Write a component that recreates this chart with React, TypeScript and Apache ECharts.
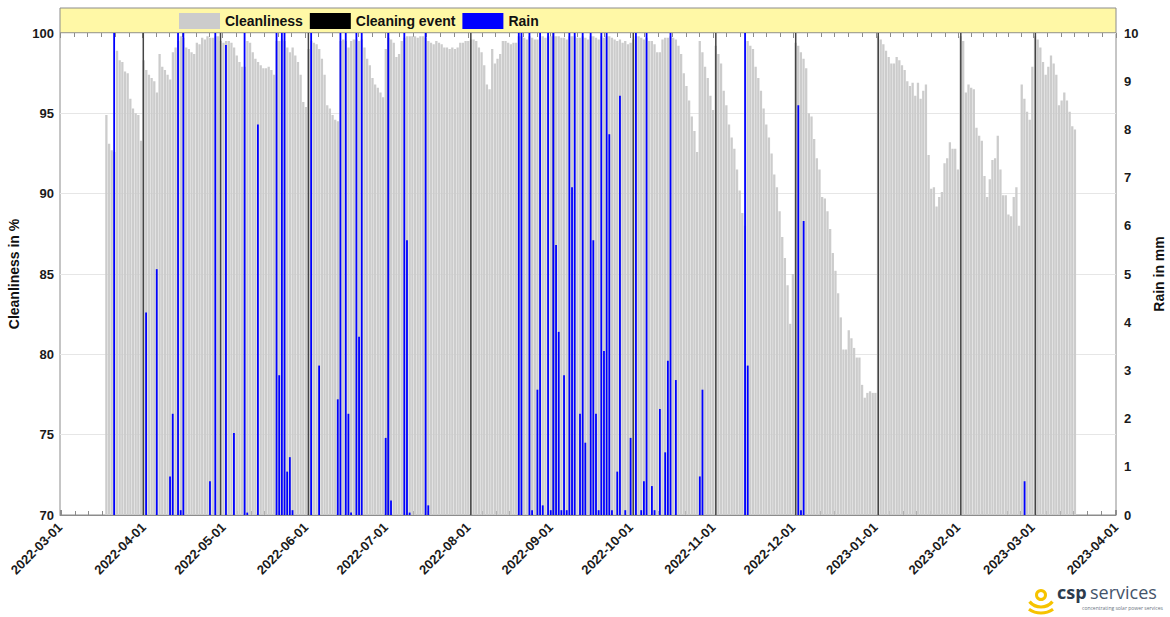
import React, { useEffect, useRef } from 'react';
import * as echarts from 'echarts';

// ---- data ----
const X_MIN = '2022-03-01';
const X_MAX = '2023-04-01';
const FIRST_DAY = '2022-03-18'; // first daily cleanliness value

// daily cleanliness in %, from 2022-03-18 to 2023-03-17
const cleanMar22 = [94.9, 93.1, 92.7, 92.6, 98.9, 98.3, 98.2, 97.6, 97.5, 95.9, 95.3, 95.0, 94.9, 93.3];
const cleanApr22 = [98.3, 97.7, 97.4, 97.2, 97.0, 96.3, 98.7, 97.9, 97.7, 97.4, 97.1, 98.8, 99.1, 99.5, 99.8, 99.7, 99.1, 99.0, 98.8, 98.7, 99.4, 99.3, 99.7, 99.6, 99.8, 99.7, 99.7, 99.8, 99.8, 99.5];
const cleanMay22 = [99.4, 99.5, 99.5, 99.4, 99.1, 98.6, 98.2, 97.9, 97.9, 99.5, 99.4, 98.8, 98.4, 98.2, 98.0, 97.8, 97.8, 97.9, 97.7, 97.4, 99.5, 99.5, 99.6, 99.5, 99.1, 98.8, 99.1, 98.6, 98.2, 97.4, 95.7];
const cleanJun22 = [95.4, 99.0, 99.5, 99.4, 99.3, 99.0, 98.4, 97.4, 95.5, 95.3, 94.9, 94.6, 94.5, 99.5, 99.6, 99.5, 99.1, 99.5, 99.6, 99.6, 99.5, 99.6, 99.1, 98.4, 98.0, 97.2, 96.8, 96.6, 96.3, 96.0];
const cleanJul22 = [99.0, 99.7, 99.6, 99.4, 98.5, 98.7, 99.5, 99.7, 99.8, 99.8, 99.8, 99.8, 99.7, 99.8, 99.8, 99.7, 99.5, 99.4, 99.3, 99.5, 99.4, 99.3, 99.1, 99.1, 99.0, 99.1, 99.0, 99.1, 99.4, 99.4, 99.5];
const cleanAug22 = [99.5, 99.6, 99.6, 99.5, 99.1, 98.8, 98.0, 96.8, 96.5, 99.0, 98.1, 98.4, 98.7, 99.5, 99.5, 99.4, 99.3, 99.4, 99.4, 99.8, 99.8, 99.7, 99.6, 99.8, 99.7, 99.6, 99.6, 99.8, 99.8, 99.7, 99.8];
const cleanSep22 = [99.8, 99.8, 99.8, 99.8, 99.7, 99.7, 99.6, 99.8, 99.8, 99.8, 99.7, 99.7, 99.8, 99.7, 99.6, 99.8, 99.8, 99.7, 99.6, 99.8, 99.7, 99.8, 99.8, 99.7, 99.6, 99.5, 99.6, 99.4, 99.5, 99.3];
const cleanOct22 = [99.4, 99.6, 99.8, 99.8, 99.7, 99.6, 99.7, 99.5, 99.5, 99.3, 98.8, 98.8, 99.6, 99.7, 99.7, 99.8, 99.7, 99.6, 99.2, 98.7, 97.5, 96.7, 95.8, 94.8, 93.9, 92.6, 99.5, 98.8, 97.9, 97.2, 96.1];
const cleanNov22 = [95.2, 99.2, 98.7, 98.1, 96.4, 95.5, 94.3, 93.5, 92.8, 91.5, 90.2, 88.8, 88.0, 99.5, 99.2, 99.0, 97.9, 97.2, 96.4, 95.3, 94.3, 93.5, 92.5, 91.2, 90.4, 88.9, 87.3, 86.0, 84.3, 81.9];
const cleanDec22 = [85.0, 99.4, 99.2, 98.8, 98.4, 97.8, 95.0, 94.8, 93.4, 92.2, 91.5, 89.8, 89.7, 88.9, 87.8, 86.3, 85.2, 83.8, 82.3, 80.3, 80.3, 81.5, 81.0, 80.4, 79.8, 79.8, 78.1, 77.3, 77.6, 77.7, 77.6];
const cleanJan23 = [77.6, 99.8, 99.6, 99.3, 98.9, 98.5, 98.1, 98.1, 98.5, 98.3, 98.0, 97.7, 97.0, 96.7, 96.9, 96.1, 96.9, 95.9, 96.4, 96.8, 92.4, 90.3, 90.4, 89.2, 89.8, 90.1, 91.9, 92.2, 93.2, 92.8, 92.8];
const cleanFeb23 = [91.5, 99.8, 99.5, 96.3, 96.8, 96.6, 96.5, 94.1, 93.6, 93.3, 91.1, 89.8, 90.9, 92.1, 92.2, 93.6, 91.5, 89.9, 89.9, 88.7, 88.6, 89.8, 90.4, 88.0, 96.8, 95.9, 95.1, 94.6];
const cleanMar23 = [97.9, 99.8, 99.6, 99.1, 98.2, 97.4, 97.9, 98.6, 98.1, 97.4, 95.5, 95.8, 96.3, 95.8, 95.1, 94.2, 94.0];

// rain in mm (values above 10 run off the top of the axis)
const rainDates = [
  '2022-03-21', '2022-04-02', '2022-04-06', '2022-04-11', '2022-04-12', '2022-04-14', '2022-04-15', '2022-04-16',
  '2022-04-26', '2022-04-28', '2022-05-02', '2022-05-05', '2022-05-09', '2022-05-10', '2022-05-14', '2022-05-21',
  '2022-05-22', '2022-05-23', '2022-05-24', '2022-05-25', '2022-05-26', '2022-05-27', '2022-06-03', '2022-06-06',
  '2022-06-13', '2022-06-14', '2022-06-16', '2022-06-17', '2022-06-18', '2022-06-20', '2022-06-21', '2022-06-22',
  '2022-07-01', '2022-07-02', '2022-07-03', '2022-07-08', '2022-07-09', '2022-07-10', '2022-07-16', '2022-07-17',
  '2022-08-20', '2022-08-21', '2022-08-24', '2022-08-25', '2022-08-27', '2022-08-28', '2022-08-29', '2022-08-31',
  '2022-09-01', '2022-09-02', '2022-09-03', '2022-09-04', '2022-09-05', '2022-09-06', '2022-09-07', '2022-09-08',
  '2022-09-09', '2022-09-10', '2022-09-12', '2022-09-13', '2022-09-14', '2022-09-16', '2022-09-17', '2022-09-18',
  '2022-09-19', '2022-09-20', '2022-09-21', '2022-09-22', '2022-09-23', '2022-09-24', '2022-09-26', '2022-09-27',
  '2022-09-29', '2022-10-01', '2022-10-03', '2022-10-05', '2022-10-06', '2022-10-07', '2022-10-09', '2022-10-10',
  '2022-10-12', '2022-10-14', '2022-10-15', '2022-10-16', '2022-10-18', '2022-10-27', '2022-10-28', '2022-11-13',
  '2022-11-14', '2022-12-03', '2022-12-04', '2022-12-05', '2023-02-26'
];
const rainMm = [
  12, 4.2, 5.1, 0.8, 2.1, 12, 0.1, 12,
  0.7, 12, 9.75, 1.7, 12, 0.05, 8.1, 12,
  2.9, 12, 12, 0.9, 1.2, 0.1, 12, 3.1,
  2.4, 12, 12, 2.1, 0.05, 12, 3.7, 12,
  1.6, 12, 0.3, 12, 5.7, 0.05, 12, 0.2,
  12, 12, 12, 0.1, 2.6, 12, 0.2, 12,
  0.1, 12, 5.6, 3.8, 0.1, 2.9, 0.1, 12,
  6.8, 12, 2.1, 12, 1.5, 12, 5.7, 2.1,
  0.1, 12, 3.4, 12, 7.9, 0.1, 0.9, 8.7,
  0.1, 1.6, 12, 0.1, 0.7, 12, 0.6, 0.1,
  2.2, 1.3, 3.2, 12, 2.8, 0.8, 2.6, 12,
  3.1, 8.5, 0.1, 6.1, 0.7
];

const cleaningDates = [
  '2022-04-01', '2022-04-30', '2022-06-02', '2022-07-02', '2022-08-02', '2022-09-02',
  '2022-10-02', '2022-11-02', '2022-12-02', '2023-01-02', '2023-02-02', '2023-03-02'
];

const leftAxisTicks = { min: 70, max: 100, step: 5 };
const rightAxisTicks = { min: 0, max: 10, step: 1 };

const FONT = '"Liberation Sans", Arial, sans-serif';
const DAY = 86400000;

function parseUTC(s: string): number {
  const [y, m, d] = s.split('-').map(Number);
  return Date.UTC(y, m - 1, d);
}

function buildCleanliness(): [number, number][] {
  const all = [
    ...cleanMar22, ...cleanApr22, ...cleanMay22, ...cleanJun22, ...cleanJul22, ...cleanAug22,
    ...cleanSep22, ...cleanOct22, ...cleanNov22, ...cleanDec22, ...cleanJan23, ...cleanFeb23, ...cleanMar23,
  ];
  const t0 = parseUTC(FIRST_DAY);
  return all.map((v, i) => [t0 + i * DAY, v]);
}

function fmtDate(v: number): string {
  const d = new Date(Math.round(v / DAY) * DAY);
  const mm = String(d.getUTCMonth() + 1).padStart(2, '0');
  const dd = String(d.getUTCDate()).padStart(2, '0');
  return `${d.getUTCFullYear()}-${mm}-${dd}`;
}

export default function App() {
  const ref = useRef<HTMLDivElement>(null);

  useEffect(() => {
    document.body.style.margin = '0';
    if (!ref.current) return;
    const chart = echarts.init(ref.current, undefined, { renderer: 'svg' });

    const xMin = parseUTC(X_MIN);
    const xMax = parseUTC(X_MAX);

    const hiddenX = () => ({
      type: 'time' as const,
      gridIndex: 0,
      min: xMin,
      max: xMax,
      show: false,
    });

    const option: any = {
      animation: false,
      useUTC: true,
      backgroundColor: '#ffffff',
      textStyle: { fontFamily: FONT },
      grid: {
        left: 60,
        right: 54,
        top: 33,
        bottom: 102,
        containLabel: false,
        outerBoundsMode: 'none',
        show: true,
        borderColor: '#8c8c8c',
        borderWidth: 1,
        backgroundColor: 'transparent',
      },
      legend: {
        left: 179,
        top: 13,
        padding: 0,
        itemWidth: 41,
        itemHeight: 16,
        itemGap: 7,
        icon: 'rect',
        textStyle: { fontFamily: FONT, fontSize: 14, fontWeight: 'bold', color: '#111' },
        data: [
          { name: 'Cleanliness', itemStyle: { color: '#cccccc', opacity: 1 } },
          { name: 'Cleaning event', itemStyle: { color: '#000000', opacity: 1 } },
          { name: 'Rain', itemStyle: { color: '#0000ff', opacity: 1 } },
        ],
      },
      xAxis: [
        {
          type: 'time',
          min: xMin,
          max: xMax,
          minInterval: 28 * DAY,
          maxInterval: 31 * DAY,
          axisLine: { show: true, lineStyle: { color: '#8c8c8c' } },
          axisTick: { show: true, inside: true, length: 5, lineStyle: { color: '#8c8c8c' } },
          minorTick: { show: true, splitNumber: 6, length: 4, lineStyle: { color: '#8c8c8c' } },
          splitLine: { show: false },
          axisLabel: {
            rotate: 45,
            margin: 10,
            interval: 0,
            hideOverlap: false,
            showMinLabel: true,
            showMaxLabel: true,
            fontFamily: FONT,
            fontSize: 13,
            fontWeight: 'bold',
            color: '#1a1a1a',
            formatter: (v: number) => fmtDate(v),
          },
        },
        hiddenX(),
        hiddenX(),
        {
          type: 'time',
          position: 'top',
          min: xMin,
          max: xMax,
          minInterval: 28 * DAY,
          maxInterval: 31 * DAY,
          axisLine: { show: false },
          axisTick: { show: true, inside: true, length: 5, lineStyle: { color: '#8c8c8c' } },
          minorTick: { show: true, splitNumber: 6, length: 4, lineStyle: { color: '#8c8c8c' } },
          axisLabel: { show: false },
          splitLine: { show: false },
        },
      ],
      yAxis: [
        {
          type: 'value',
          min: leftAxisTicks.min,
          max: leftAxisTicks.max,
          interval: leftAxisTicks.step,
          name: 'Cleanliness in %',
          nameLocation: 'middle',
          nameGap: 38,
          nameTextStyle: { fontFamily: FONT, fontSize: 14, fontWeight: 'bold', color: '#111' },
          axisLine: { show: false },
          axisTick: { show: false },
          axisLabel: { margin: 6, fontFamily: FONT, fontSize: 13, fontWeight: 'bold', color: '#1a1a1a' },
          splitLine: { show: true, lineStyle: { color: '#e6e6e6', width: 1 } },
        },
        {
          type: 'value',
          position: 'right',
          min: rightAxisTicks.min,
          max: rightAxisTicks.max,
          interval: rightAxisTicks.step,
          name: 'Rain in mm',
          nameLocation: 'middle',
          nameGap: 36,
          nameRotate: 90,
          nameTextStyle: { fontFamily: FONT, fontSize: 14, fontWeight: 'bold', color: '#111' },
          axisLine: { show: false },
          axisTick: { show: false },
          axisLabel: { margin: 8, fontFamily: FONT, fontSize: 13, fontWeight: 'bold', color: '#1a1a1a' },
          splitLine: { show: false },
        },
      ],
      series: [
        {
          name: 'Cleanliness',
          type: 'bar',
          xAxisIndex: 0,
          yAxisIndex: 0,
          barWidth: 2.3,
          itemStyle: { color: '#cccccc' },
          data: buildCleanliness(),
          clip: true,
        },
        {
          name: 'Cleaning event',
          type: 'bar',
          xAxisIndex: 1,
          yAxisIndex: 0,
          barWidth: 1.5,
          itemStyle: { color: '#444444' },
          data: cleaningDates.map((d) => [parseUTC(d), leftAxisTicks.max]),
          clip: true,
        },
        {
          name: 'Rain',
          type: 'bar',
          xAxisIndex: 2,
          yAxisIndex: 1,
          barWidth: 1.8,
          itemStyle: { color: '#0000ff' },
          data: rainDates.map((d, i) => [parseUTC(d), rainMm[i]]),
          clip: true,
        },
      ],
      graphic: [
        {
          type: 'rect',
          z: -1,
          shape: { x: 60, y: 8, width: 1056, height: 25 },
          style: { fill: '#fff8a6', stroke: '#8c8c8c', lineWidth: 1 },
        },
        // logo
        {
          type: 'circle',
          shape: { cx: 1041, cy: 595, r: 4.5 },
          style: { fill: 'none', stroke: '#f6c300', lineWidth: 3 },
        },
        {
          type: 'arc',
          shape: { cx: 1041, cy: 592, r: 15, startAngle: (40 * Math.PI) / 180, endAngle: (140 * Math.PI) / 180, clockwise: true },
          style: { fill: 'none', stroke: '#f6c300', lineWidth: 3.2 },
        },
        {
          type: 'arc',
          shape: { cx: 1041, cy: 592, r: 21, startAngle: (55 * Math.PI) / 180, endAngle: (125 * Math.PI) / 180, clockwise: true },
          style: { fill: 'none', stroke: '#f6c300', lineWidth: 3.2 },
        },
        {
          type: 'text',
          x: 1057,
          y: 601,
          style: { text: 'csp', fill: '#2c3c4e', font: 'bold 18px "Open Sans", sans-serif', textVerticalAlign: 'bottom' },
        },
        {
          type: 'text',
          x: 1090,
          y: 601,
          style: { text: 'services', fill: '#44546a', font: '18px "Open Sans", sans-serif', textVerticalAlign: 'bottom' },
        },
        {
          type: 'text',
          x: 1082,
          y: 608,
          style: { text: 'concentrating solar power services', fill: '#6a7480', font: '5px "Open Sans", sans-serif', textVerticalAlign: 'middle' },
        },
      ],
    };

    chart.setOption(option);
    return () => chart.dispose();
  }, []);

  return <div ref={ref} style={{ width: 1170, height: 617 }} />;
}
